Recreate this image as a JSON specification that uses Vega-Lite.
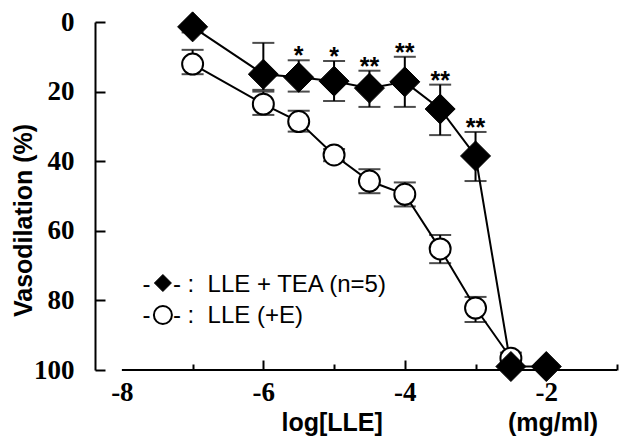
{
  "$schema": "https://vega.github.io/schema/vega-lite/v6.json",
  "width": 522,
  "height": 348,
  "autosize": {"type": "none"},
  "padding": {"left": 95, "top": 22, "right": 2, "bottom": 66},
  "background": "white",
  "config": {
    "view": {"stroke": null},
    "axis": {
      "grid": false,
      "domainColor": "black",
      "domainWidth": 2,
      "tickColor": "black",
      "tickWidth": 2,
      "labelColor": "black",
      "titleColor": "black",
      "labelFont": "Liberation Serif",
      "labelFontWeight": "bold",
      "labelFontSize": 27,
      "titleFont": "Liberation Sans",
      "titleFontWeight": "bold",
      "titleFontSize": 25
    }
  },
  "data": {
    "values": [
      {"s": "T", "x": -7, "y": 1.4, "lo": 0.5, "hi": 3, "star": ""},
      {"s": "T", "x": -6, "y": 15, "lo": 6, "hi": 19.5, "star": ""},
      {"s": "T", "x": -5.5, "y": 15.9, "lo": 11, "hi": 20, "star": "*"},
      {"s": "T", "x": -5, "y": 17, "lo": 11.2, "hi": 22.7, "star": "*"},
      {"s": "T", "x": -4.5, "y": 19, "lo": 14, "hi": 24.4, "star": "**"},
      {"s": "T", "x": -4, "y": 17.2, "lo": 10, "hi": 24.4, "star": "**"},
      {"s": "T", "x": -3.5, "y": 25, "lo": 18, "hi": 32.5, "star": "**"},
      {"s": "T", "x": -3, "y": 38.5, "lo": 31.6, "hi": 45.7, "star": "**"},
      {"s": "T", "x": -2.5, "y": 99, "lo": 98, "hi": 100, "star": ""},
      {"s": "T", "x": -2, "y": 99, "lo": 98, "hi": 100, "star": ""},
      {"s": "E", "x": -7, "y": 12.1, "lo": 8, "hi": 15, "star": ""},
      {"s": "E", "x": -6, "y": 23.6, "lo": 20, "hi": 26.7, "star": ""},
      {"s": "E", "x": -5.5, "y": 28.6, "lo": 25.5, "hi": 31.5, "star": ""},
      {"s": "E", "x": -5, "y": 38.2, "lo": 36.5, "hi": 40, "star": ""},
      {"s": "E", "x": -4.5, "y": 45.7, "lo": 42.3, "hi": 49.2, "star": ""},
      {"s": "E", "x": -4, "y": 49.5, "lo": 46.1, "hi": 53, "star": ""},
      {"s": "E", "x": -3.5, "y": 65.2, "lo": 61.2, "hi": 69.3, "star": ""},
      {"s": "E", "x": -3, "y": 82.2, "lo": 79, "hi": 86.2, "star": ""},
      {"s": "E", "x": -2.5, "y": 96.6, "lo": 95, "hi": 98, "star": ""}
    ]
  },
  "layer": [
    {
      "mark": {"type": "line", "color": "black", "strokeWidth": 2},
      "encoding": {
        "x": {
          "field": "x", "type": "quantitative",
          "scale": {"domain": [-8.38, -1], "nice": false, "zero": false},
          "axis": {
            "values": [-8, -7, -6, -5, -4, -3, -2, -1],
            "domain": false,
            "labelExpr": "datum.value % 2 == 0 ? '' + datum.value : ''",
            "tickSize": {"condition": {"test": "datum.value % 2 == 0", "value": -10}, "value": -6},
            "tickOpacity": {"condition": {"test": "datum.value == -8", "value": 0}, "value": 1},
            "labelPadding": 19,
            "labelBaseline": "top",
            "title": "log[LLE]\u00a0\u00a0\u00a0\u00a0\u00a0\u00a0\u00a0\u00a0\u00a0\u00a0\u00a0\u00a0\u00a0\u00a0\u00a0\u00a0\u00a0\u00a0(mg/ml)",
            "titleX": 186,
            "titleY": 60,
            "titleAlign": "left",
            "titleBaseline": "alphabetic"
          }
        },
        "y": {
          "field": "y", "type": "quantitative",
          "scale": {"domain": [0, 100], "reverse": true, "nice": false, "zero": false},
          "axis": {
            "values": [0, 10, 20, 30, 40, 50, 60, 70, 80, 90, 100],
            "labelExpr": "datum.value % 20 == 0 ? datum.label : ''",
            "tickSize": {"condition": {"test": "datum.value % 20 == 0", "value": -10}, "value": -5},
            "labelPadding": 31,
            "title": "Vasodilation (%)",
            "titleAngle": 270,
            "titleX": -72,
            "titleY": 198,
            "titleAlign": "center",
            "titleBaseline": "middle"
          }
        },
        "detail": {"field": "s"},
        "order": {"field": "x", "type": "quantitative"}
      }
    },
    {
      "transform": [{"filter": "datum.s == 'E'"}],
      "mark": {"type": "rule", "color": "black", "strokeWidth": 2},
      "encoding": {
        "x": {"field": "x", "type": "quantitative"},
        "y": {"field": "lo", "type": "quantitative"},
        "y2": {"field": "hi"}
      }
    },
    {
      "transform": [{"filter": "datum.s == 'E'"}, {"fold": ["lo", "hi"], "as": ["k", "v"]}],
      "mark": {"type": "tick", "orient": "horizontal", "size": 22, "thickness": 2, "color": "black"},
      "encoding": {
        "x": {"field": "x", "type": "quantitative"},
        "y": {"field": "v", "type": "quantitative"}
      }
    },
    {
      "transform": [{"filter": "datum.s == 'E'"}],
      "mark": {"type": "point", "shape": "circle", "size": 440, "filled": true, "fill": "white", "stroke": "black", "strokeWidth": 2, "opacity": 1},
      "encoding": {
        "x": {"field": "x", "type": "quantitative"},
        "y": {"field": "y", "type": "quantitative"}
      }
    },
    {
      "transform": [{"filter": "datum.s == 'T'"}],
      "mark": {"type": "rule", "color": "black", "strokeWidth": 2},
      "encoding": {
        "x": {"field": "x", "type": "quantitative"},
        "y": {"field": "lo", "type": "quantitative"},
        "y2": {"field": "hi"}
      }
    },
    {
      "transform": [{"filter": "datum.s == 'T'"}, {"fold": ["lo", "hi"], "as": ["k", "v"]}],
      "mark": {"type": "tick", "orient": "horizontal", "size": 22, "thickness": 2, "color": "black"},
      "encoding": {
        "x": {"field": "x", "type": "quantitative"},
        "y": {"field": "v", "type": "quantitative"}
      }
    },
    {
      "transform": [{"filter": "datum.s == 'T'"}],
      "mark": {"type": "point", "shape": "diamond", "size": 900, "filled": true, "fill": "black", "stroke": "black", "strokeWidth": 1, "opacity": 1},
      "encoding": {
        "x": {"field": "x", "type": "quantitative"},
        "y": {"field": "y", "type": "quantitative"}
      }
    },
    {
      "transform": [{"filter": "datum.star != ''"}],
      "mark": {"type": "text", "font": "Liberation Sans", "fontWeight": "bold", "fontSize": 25, "baseline": "alphabetic", "dy": 4, "color": "black"},
      "encoding": {
        "x": {"field": "x", "type": "quantitative"},
        "y": {"field": "lo", "type": "quantitative"},
        "text": {"field": "star"}
      }
    },
    {
      "data": {"values": [{"t": "-"}]},
      "mark": {"type": "rule", "color": "black", "strokeWidth": 2},
      "encoding": {
        "x": {"datum": -8, "type": "quantitative"},
        "x2": {"datum": -1},
        "y": {"datum": 100, "type": "quantitative"}
      }
    },
    {
      "data": {"values": [{"t": "-"}]},
      "mark": {"type": "text", "font": "Liberation Sans", "fontSize": 24, "align": "center", "baseline": "alphabetic", "color": "black"},
      "encoding": {
        "x": {"datum": -7.653, "type": "quantitative"},
        "y": {"datum": 77.6, "type": "quantitative"},
        "text": {"field": "t"}
      }
    },
    {
      "data": {"values": [{"t": "-"}]},
      "mark": {"type": "text", "font": "Liberation Sans", "fontSize": 24, "align": "center", "baseline": "alphabetic", "color": "black"},
      "encoding": {
        "x": {"datum": -7.653, "type": "quantitative"},
        "y": {"datum": 86.5, "type": "quantitative"},
        "text": {"field": "t"}
      }
    },
    {
      "data": {"values": [{"t": "- :\u00a0 LLE + TEA (n=5)"}]},
      "mark": {"type": "text", "font": "Liberation Sans", "fontSize": 24, "align": "left", "baseline": "alphabetic", "color": "black"},
      "encoding": {
        "x": {"datum": -7.279, "type": "quantitative"},
        "y": {"datum": 77.6, "type": "quantitative"},
        "text": {"field": "t"}
      }
    },
    {
      "data": {"values": [{"t": "- :\u00a0 LLE (+E)"}]},
      "mark": {"type": "text", "font": "Liberation Sans", "fontSize": 24, "align": "left", "baseline": "alphabetic", "color": "black"},
      "encoding": {
        "x": {"datum": -7.279, "type": "quantitative"},
        "y": {"datum": 86.5, "type": "quantitative"},
        "text": {"field": "t"}
      }
    },
    {
      "data": {"values": [{"t": "T"}]},
      "mark": {"type": "point", "shape": "diamond", "size": 289, "filled": true, "fill": "black", "stroke": "black", "strokeWidth": 1, "opacity": 1},
      "encoding": {
        "x": {"datum": -7.42, "type": "quantitative"},
        "y": {"datum": 75.0, "type": "quantitative"}
      }
    },
    {
      "data": {"values": [{"t": "E"}]},
      "mark": {"type": "point", "shape": "circle", "size": 324, "filled": true, "fill": "white", "stroke": "black", "strokeWidth": 2, "opacity": 1},
      "encoding": {
        "x": {"datum": -7.42, "type": "quantitative"},
        "y": {"datum": 84.2, "type": "quantitative"}
      }
    }
  ]
}
